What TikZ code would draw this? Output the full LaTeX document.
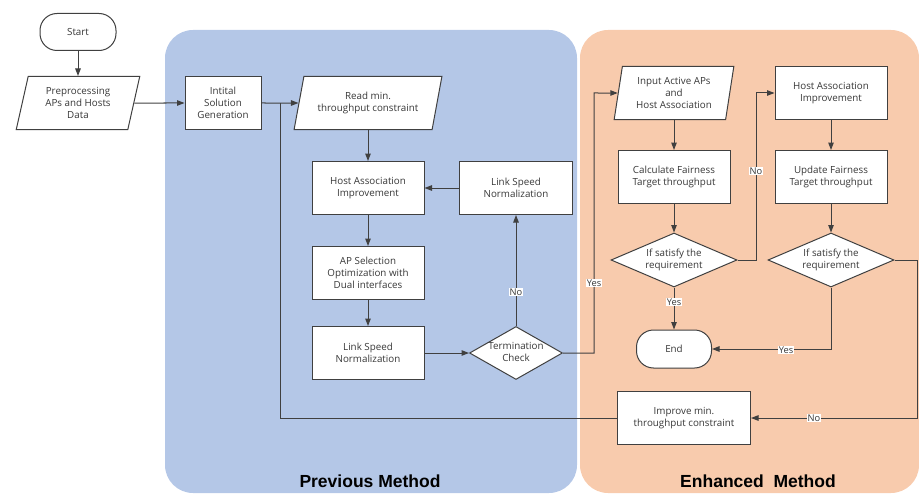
\documentclass[tikz,border=0pt]{standalone}
\usepackage{fontspec}
\setmainfont{Open Sans}
\newfontfamily\titlefont{Liberation Sans}
\usetikzlibrary{arrows.meta,shapes.geometric}
\definecolor{prevblue}{HTML}{B4C7E7}
\definecolor{enhorange}{HTML}{F8CBAD}
\definecolor{linegray}{HTML}{404040}
\newcommand{\dtext}[1]{\makebox[0pt]{\begin{tabular}{@{}c@{}}#1\end{tabular}}}

\begin{document}
\begin{tikzpicture}[x=1pt,y=-1pt,>={Triangle[length=7.5pt,width=5.5pt]},
    every node/.style={font=\fontsize{9.8}{12.3}\selectfont,text=black!78}]
    \tikzstyle{process}=[draw=linegray,fill=white,line width=1pt,minimum width=112pt,minimum height=53pt,align=center,inner sep=2pt]
    \tikzstyle{terminal}=[process,rounded corners=17pt,minimum width=76pt,minimum height=37pt]
    \tikzstyle{io}=[process,trapezium,trapezium stretches=true,trapezium left angle=73,trapezium right angle=107]
    \tikzstyle{decision}=[process,diamond,inner sep=0pt]
    \tikzstyle{flow}=[draw=linegray,line width=1pt]
    \tikzstyle{lab}=[fill=white,inner sep=1pt,font=\fontsize{9.3}{11}\selectfont]
    \tikzstyle{title}=[font=\titlefont\bfseries\fontsize{17.5}{20}\selectfont,text=black]
    \useasboundingbox (0,0) rectangle (919,495);
    % regions
    \fill [prevblue,rounded corners=28pt] (165,30) rectangle (577,493);
    \fill [enhorange,rounded corners=28pt] (580,30) rectangle (919,493);
    \node[title] (prevtitle) at (370,481) {Previous Method};
    \node[title] (enhtitle) at (758,481) {Enhanced~~Method};
    % previous method
    \node[terminal] (start) at (78,32) {Start};
    \node[io,trapezium left angle=77,trapezium right angle=103,minimum width=124pt] (prep) at (78,103) {Preprocessing\\APs and Hosts\\Data};
    \node[process,minimum width=76pt] (init) at (223,103) {Intital\\Solution\\Generation};
    \node[io,minimum width=148pt] (read) at (368,103) {Read min.\\throughput constraint};
    \node[process] (hosta) at (368,188) {Host Association\\Improvement};
    \node[process,minimum width=113pt] (lsnup) at (516,188) {Link Speed\\Normalization};
    \node[process] (apsel) at (368,273) {AP Selection\\Optimization with\\Dual interfaces};
    \node[process] (lsnlow) at (368,353) {Link Speed\\Normalization};
    \node[decision,minimum width=93pt,minimum height=53pt] (term) at (516,353) {\dtext{Termination\\Check}};
    % enhanced method
    \node[io,trapezium left angle=80,trapezium right angle=100,minimum width=120pt] (input) at (674,93) {Input Active APs\\and\\Host Association};
    \node[process] (calc) at (674,177) {Calculate Fairness\\Target throughput};
    \node[decision,minimum width=126pt,minimum height=54pt] (sat1) at (674,260) {\dtext{If satisfy the\\requirement}};
    \node[terminal,minimum width=75pt,minimum height=38pt] (end) at (674,349) {End};
    \node[process] (hostb) at (831,93) {Host Association\\Improvement};
    \node[process] (upd) at (831,177) {Update Fairness\\Target throughput};
    \node[decision,minimum width=126pt,minimum height=54pt] (sat2) at (831,260) {\dtext{If satisfy the\\requirement}};
    \node[process,minimum width=133pt] (impr) at (684,418) {Improve min.\\throughput constraint};
    \coordinate (merge) at (280,103);
    \coordinate (yescorner) at (594,93);
    \coordinate (nocorner) at (756,93);
    \coordinate (rightcorner) at (917,418);
    % connectors
    \draw[flow,->] (start) -- (prep);
    \draw[flow,->] (prep.east) -- (init.west);
    \draw[flow,->] (init.east) -- (read.west);
    \draw[flow] (impr.west) -| (merge);
    \draw[flow,->] (read) -- (hosta);
    \draw[flow,->] (hosta) -- (apsel);
    \draw[flow,->] (apsel) -- (lsnlow);
    \draw[flow,->] (lsnlow) -- (term);
    \draw[flow,->] (term) -- (lsnup);
    \draw[flow,->] (lsnup) -- (hosta);
    \draw[flow,->] (term.east) -| (yescorner) -- (input.west);
    \draw[flow,->] (input) -- (calc);
    \draw[flow,->] (calc) -- (sat1);
    \draw[flow,->] (sat1) -- (end);
    \draw[flow,->] (sat1.east) -| (nocorner) -- (hostb.west);
    \draw[flow,->] (hostb) -- (upd);
    \draw[flow,->] (upd) -- (sat2);
    \draw[flow,->] (sat2.south) |- (end.east);
    \draw[flow,->] (sat2.east) -| (rightcorner) -- (impr.east);
    % labels
    \node[lab] (noA) at (516,292) {No};
    \node[lab] (yesA) at (594,283) {Yes};
    \node[lab] (noB) at (756,171) {No};
    \node[lab] (yesB) at (674,302) {Yes};
    \node[lab] (yesC) at (786,350) {Yes};
    \node[lab] (noC) at (814,418) {No};
\end{tikzpicture}
\end{document}
